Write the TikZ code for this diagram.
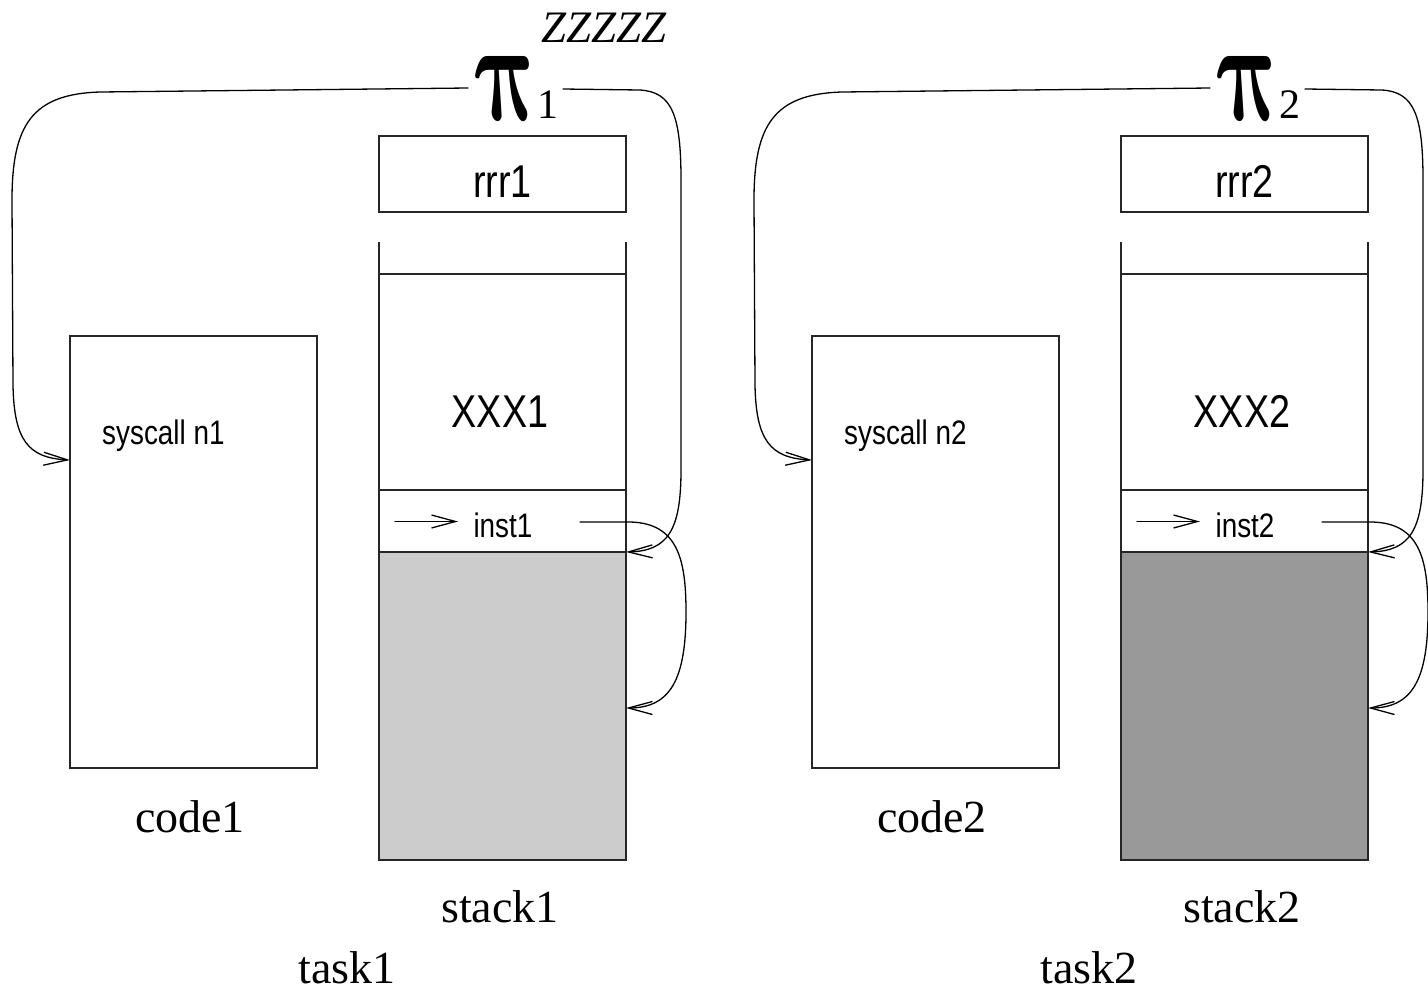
\documentclass[tikz,border=0pt]{standalone}
\usepackage{fontspec}
\setmainfont{Liberation Serif}
\newfontfamily\narrowsans[FakeStretch=0.82]{Liberation Sans}
\usepackage{bm}
\usetikzlibrary{arrows.meta}
\definecolor{shadeA}{gray}{0.8}
\definecolor{shadeB}{gray}{0.6}
\definecolor{frame}{gray}{0.15}

\begin{document}
\begin{tikzpicture}[x=1pt,y=-1pt,
  box/.style={draw=frame, line width=1.7pt, inner sep=0pt, outer sep=0pt},
  rule/.style={draw=frame, line width=1.7pt},
  link/.style={line width=1.3pt, line cap=round,
    -{Straight Barb[length=24pt,width=13pt,line width=1.3pt]}},
  bigsans/.style={font=\narrowsans\fontsize{46}{48}\selectfont, inner sep=0pt},
  smallsans/.style={font=\narrowsans\fontsize{34}{36}\selectfont, inner sep=0pt},
  serif/.style={font=\fontsize{46}{48}\selectfont, inner sep=0pt},
]
\useasboundingbox (0,0) rectangle (1428,991);

\node[serif, font=\itshape\fontsize{45}{48}\selectfont, anchor=base] (zz) at (604,42) {ZZZZZ};

\foreach \k/\dx/\shade in {1/0/shadeA, 2/742/shadeB}{
\begin{scope}[xshift=\dx]
  % code segment
  \node[box, minimum width=247pt, minimum height=432pt, anchor=north west] (code\k) at (70,336) {};
  \node[smallsans, anchor=base west] (sys\k) at (102,444) {syscall n\k};
  \node[serif, anchor=base] (codelbl\k) at (190,832) {code\k};

  % register box
  \node[box, minimum width=247pt, minimum height=76pt, anchor=north west] (reg\k) at (379,136) {};
  \node[bigsans, anchor=base] (reglbl\k) at (502.5,197) {rrr\k};

  % stack: shaded free part, then frame and rows
  \fill[\shade] (379,552) rectangle (626,860);
  \node[box, minimum width=247pt, minimum height=586pt, anchor=north west] (stk\k) at (379,274) {};
  \draw[rule] (379,242) -- (stk\k.north west);
  \draw[rule] (626,242) -- (stk\k.north east);
  \node[box, minimum width=247pt, minimum height=62pt, anchor=north west] (ins\k) at (379,490) {};
  \node[bigsans, anchor=base] (xxx\k) at (500,427) {XXX\k};
  \node[smallsans, anchor=base] (inslbl\k) at (503,537) {inst\k};
  \node[serif, anchor=base] (stklbl\k) at (500,922) {stack\k};
  \node[serif, anchor=base] (task\k) at (347,983) {task\k};

  % processor label: upright bold pi with a subscript
  \node[inner sep=0pt, anchor=south west, xslant=-0.22, transform shape] (pi\k) at (482,121)
    {\resizebox{64pt}{64pt}{$\bm{\pi}$}\kern-12pt};
  \node[inner sep=0pt, anchor=base west, font=\fontsize{42}{42}\selectfont] (pisub\k) at (537,118) {\k};

  % connector end points
  \coordinate (pl\k) at (468,88);
  \coordinate (pr\k) at (563,89);
  \coordinate (sy\k) at (0,460);
  \coordinate (ia\k) at (395,521.5);
  \coordinate (ib\k) at (458,521.5);
  \coordinate (ic\k) at (580,522);
  \coordinate (sp\k) at (0,708);

  \draw[link] (ia\k) -- (ib\k);
  \draw[link] (pl\k) -- (100,92) .. controls (32,94) and (12,125) .. (12,200)
    -- (13,385) .. controls (14,440) and (28,458) .. (code\k.west |- sy\k);
  \draw[link] (pr\k) -- (640,90) .. controls (672,92) and (681,115) .. (681,180)
    -- (681,470) .. controls (681,530) and (668,551) .. (ins\k.south east);
  \draw[link] (ic\k) -- (630,522) .. controls (678,523) and (686,560) .. (686,612)
    .. controls (686,680) and (670,708) .. (stk\k.east |- sp\k);
\end{scope}
}
\end{tikzpicture}
\end{document}
